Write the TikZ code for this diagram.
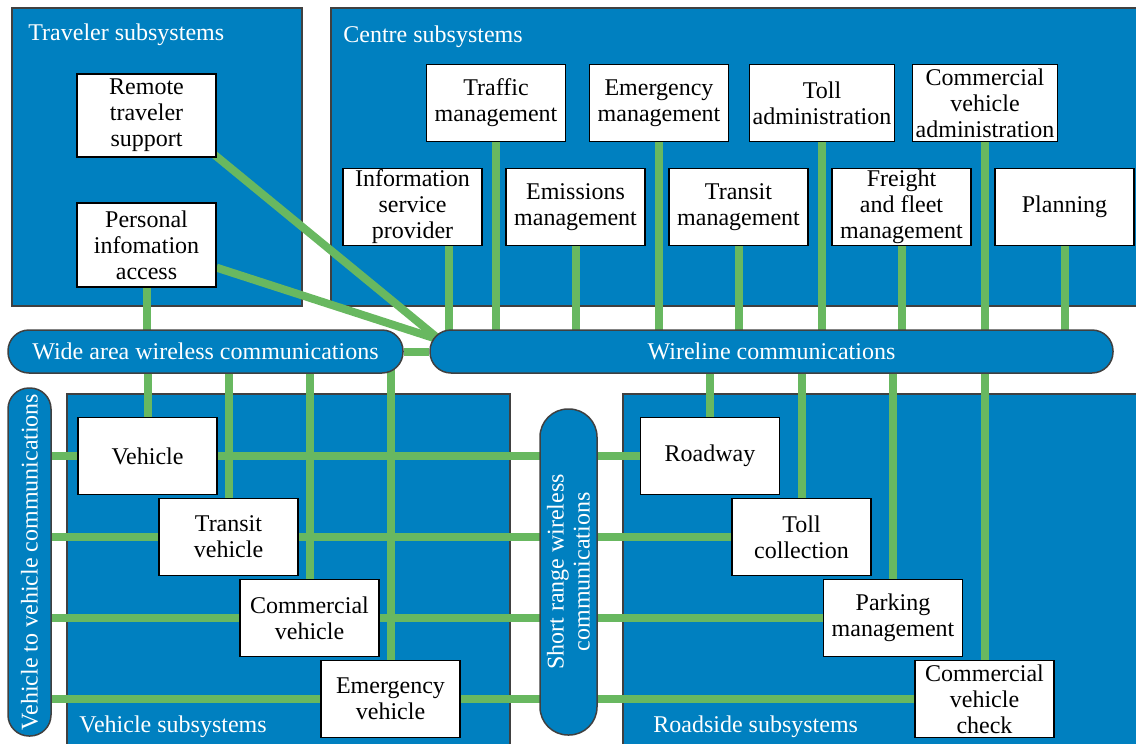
\documentclass[tikz,border=0pt]{standalone}
\usepackage{fontspec}
\setmainfont{Liberation Serif}
\usetikzlibrary{positioning, backgrounds}

\definecolor{panelblue}{RGB}{0,128,192}
\definecolor{linkgreen}{RGB}{104,184,96}
\pgfdeclarelayer{panels}
\pgfsetlayers{panels,background,main}

\tikzset{
	panel/.style={draw=black!75, line width=0.75pt, fill=panelblue},
	title/.style={anchor=west, text=white, inner sep=0pt},
	unit/.style={draw, line width=0.6pt, fill=white, align=center, minimum width=69.5pt, minimum height=38.5pt, inner xsep=1.5pt, inner ysep=0pt},
	bus/.style={draw=black!75, line width=0.75pt, fill=panelblue, text=white, rounded corners=10.5pt, minimum height=21.5pt, inner sep=0pt},
	link/.style={draw=linkgreen, line width=4pt}
}

\begin{document}
\begin{tikzpicture}[x=0.5pt, y=-0.5pt, font=\fontsize{12}{13}\selectfont, on grid, node distance=81.5pt]
	\useasboundingbox (0,0) rectangle (1136,744);

	\begin{pgfonlayer}{panels}
		\draw[panel] (12,8) rectangle (302,306);
		\draw[panel] (331,8) rectangle (1142,306);
		\draw[panel] (67,394) rectangle (510,750);
		\draw[panel] (623,394) rectangle (1142,750);
	\end{pgfonlayer}

	\node[title] (trav_t) at (28,35) {Traveler subsystems};
	\node[title] (cent_t) at (343,37) {Centre subsystems};
	\node[title] (veh_t) at (79,727) {Vehicle subsystems};
	\node[title] (road_t) at (653,727) {Roadside subsystems};

	\node[unit, minimum height=41.5pt] (rts) at (146.5,115.5) {Remote\\traveler\\support};
	\node[unit, minimum height=42pt, below=64.75pt of rts] (pia) {Personal\\infomation\\access};

	\node[unit] (traf) at (496,103) {Traffic\\management};
	\node[unit, right=of traf] (emgm) {Emergency\\management};
	\node[unit, right=of emgm] (tolla) {Toll\\administration};
	\node[unit, right=of tolla] (cva) {Commercial\\vehicle\\administration};
	\node[unit] (isp) at (412.5,207) {Information\\service\\provider};
	\node[unit, right=of isp] (emis) {Emissions\\management};
	\node[unit, right=of emis] (trm) {Transit\\management};
	\node[unit, right=of trm] (fleet) {Freight\\and fleet\\management};
	\node[unit, right=of fleet] (plan) {Planning};

	\node[bus, minimum width=197.5pt] (wide) at (205.5,351.5) {Wide area wireless communications};
	\node[bus, minimum width=341.5pt] (wire) at (771.5,351.5) {Wireline communications};
	\node[bus, rotate=90, minimum width=174pt] (v2v) at (29.5,562) {Vehicle to vehicle communications};
	\node[bus, rotate=90, align=center, minimum width=163pt, minimum height=28.5pt, rounded corners=14pt] (srw) at (568.5,572) {Short range wireless\\communications};

	\node[unit] (veh) at (147.5,456) {Vehicle};
	\node[unit, below right=40.5pt and 40.5pt of veh] (tveh) {Transit\\vehicle};
	\node[unit, below right=40.5pt and 40.5pt of tveh] (cveh) {Commercial\\vehicle};
	\node[unit, below right=40.5pt and 40.5pt of cveh] (eveh) {Emergency\\vehicle};

	\node[unit] (road) at (710,456) {Roadway};
	\node[unit, below right=40.5pt and 45.75pt of road] (toll) {Toll\\collection};
	\node[unit, below right=40.5pt and 45.75pt of toll] (park) {Parking\\management};
	\node[unit, below right=40.5pt and 45.75pt of park] (cvc) {Commercial\\vehicle\\check};

	\coordinate (hub) at (440,340);
	\coordinate[xshift=18.25pt] (ispdrop) at (isp.south);

	\begin{scope}[on background layer]
		\path[link]
		([shift={(-3pt,3pt)}]rts.south east) edge (hub)
		(pia) edge (hub)
		(pia) edge (pia |- wide)
		(wide) edge (wire)
		(ispdrop) edge (ispdrop |- wire)
		(traf) edge (traf |- wire)
		(emgm) edge (emgm |- wire)
		(tolla) edge (tolla |- wire)
		(cva) edge (cva |- cvc)
		(emis) edge (emis |- wire)
		(trm) edge (trm |- wire)
		(fleet) edge (fleet |- wire)
		(plan) edge (plan |- wire)
		(veh) edge (veh |- wide)
		(tveh) edge (tveh |- wide)
		(cveh) edge (cveh |- wide)
		(eveh) edge (eveh |- wide)
		(road) edge (road |- wire)
		(toll) edge (toll |- wire)
		(park) edge (park |- wire)
		(v2v |- veh) edge (road)
		(v2v |- tveh) edge (toll)
		(v2v |- cveh) edge (park)
		(v2v |- eveh) edge (cvc);
	\end{scope}
\end{tikzpicture}
\end{document}
